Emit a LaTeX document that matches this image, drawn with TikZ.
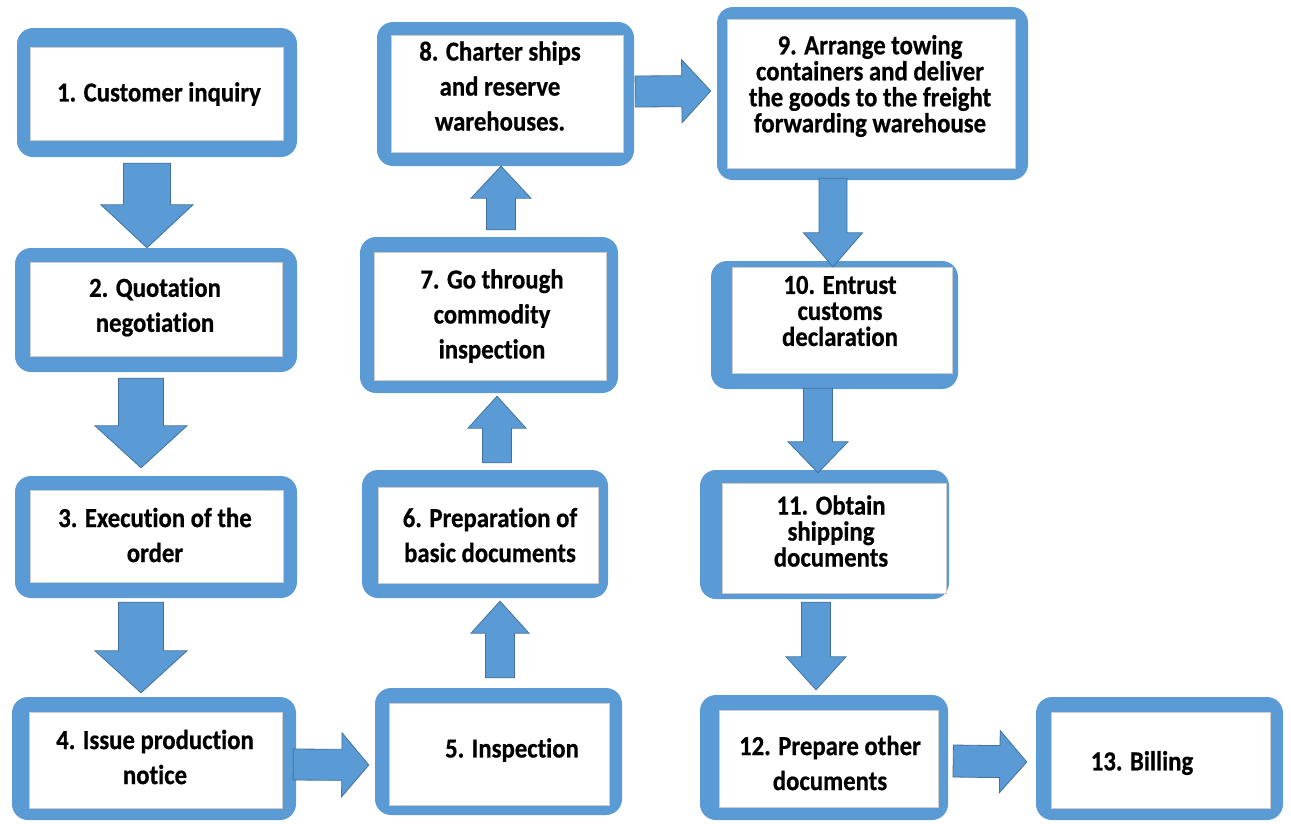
\documentclass[tikz,border=0pt]{standalone}
\usepackage{fontspec}
\setmainfont{Carlito}[Ligatures=CommonOff,FakeStretch=0.9,BoldFeatures={FakeBold=0.6}]
\usepackage{tikz}
\usetikzlibrary{calc}

\definecolor{boxblue}{RGB}{91,155,213}
\definecolor{edgeblue}{RGB}{65,113,156}

\newcommand{\blockarrow}[5]{%
  \coordinate (ba-s) at #1;
  \coordinate (ba-e) at #2;
  \coordinate (ba-n) at ($(ba-e)!#5!(ba-s)$);
  \path [arrowbody] ($(ba-s)!#3!90:(ba-e)$) -- ($(ba-n)!#3!90:(ba-e)$) -- ($(ba-n)!#4!90:(ba-e)$) -- (ba-e)
    -- ($(ba-n)!#4!-90:(ba-e)$) -- ($(ba-n)!#3!-90:(ba-e)$) -- ($(ba-s)!#3!-90:(ba-e)$) -- cycle;}

\begin{document}
\begin{tikzpicture}[x=1pt,y=-1pt,
  frame/.style={shape=rectangle,rounded corners=16pt,fill=boxblue,inner sep=0pt},
  inner/.style={fill=white,draw=black!20,line width=0.8pt},
  txt/.style={align=center,inner sep=0pt,font=\fontsize{27.5pt}{35pt}\selectfont\bfseries},
  tight/.style={align=center,inner sep=0pt,font=\fontsize{27.5pt}{26pt}\selectfont\bfseries},
  arrowbody/.style={fill=boxblue,draw=edgeblue,line width=0.8pt,line join=miter}]
\useasboundingbox (0,0) rectangle (1291,823);

\path (157,92.5) node (fr1) [frame,minimum width=280pt,minimum height=129pt] {};
\path (156,310) node (fr2) [frame,minimum width=282pt,minimum height=124pt] {};
\path (156,537) node (fr3) [frame,minimum width=282pt,minimum height=122pt] {};
\path (154,758.5) node (fr4) [frame,minimum width=284pt,minimum height=123pt] {};
\path (498.5,751.5) node (fr5) [frame,minimum width=247pt,minimum height=127pt] {};
\path (485,534) node (fr6) [frame,minimum width=246pt,minimum height=128pt] {};
\path (489,315) node (fr7) [frame,minimum width=258pt,minimum height=156pt] {};
\path (505.5,94) node (fr8) [frame,minimum width=257pt,minimum height=144pt] {};
\path (872.5,93.5) node (fr9) [frame,minimum width=311pt,minimum height=173pt] {};
\path (834.5,325) node (fr10) [frame,minimum width=247pt,minimum height=128pt] {};
\path (824.5,534.5) node (fr11) [frame,minimum width=249pt,minimum height=129pt] {};
\path (824,757.5) node (fr12) [frame,minimum width=248pt,minimum height=125pt] {};
\path (1159.5,758.5) node (fr13) [frame,minimum width=247pt,minimum height=123pt] {};

\path [inner] (30,47) rectangle (283,140);
\path [inner] (30,262) rectangle (282,356);
\path [inner] (30,490) rectangle (283,582);
\path [inner] (29,712) rectangle (282,808);
\path [inner] (389,703) rectangle (609,805);
\path [inner] (378,487) rectangle (598,583);
\path [inner] (374,252) rectangle (606,380);
\path [inner] (391,35) rectangle (623,152);
\path [inner] (727,19) rectangle (1015,168);
\path [inner] (732,267) rectangle (952,373);
\path [inner] (722,483) rectangle (946,593);
\path [inner] (719,710) rectangle (938,807);
\path [inner] (1051,712) rectangle (1270,808);

\path (159,94) node (t1) [txt] {1. Customer inquiry};
\path (155,307) node (t2) [txt] {2. Quotation\\negotiation};
\path (155,535) node (t3) [txt] {3. Execution of the\\order};
\path (155,757) node (t4) [txt] {4. Issue production\\notice};
\path (512,750) node (t5) [txt] {5. Inspection};
\path (490,535) node (t6) [txt] {6. Preparation of\\basic documents};
\path (492,316) node (t7) [txt] {7. Go through\\commodity\\inspection};
\path (500,86) node (t8) [txt] {8. Charter ships\\and reserve\\warehouses.};
\path (870,86) node (t9) [tight] {9. Arrange towing\\containers and deliver\\the goods to the freight\\forwarding warehouse};
\path (840,311) node (t10) [tight] {10. Entrust\\customs\\declaration};
\path (831,531) node (t11) [tight] {11. Obtain\\shipping\\documents};
\path (830,763) node (t12) [txt] {12. Prepare other\\documents};
\path (1142,763) node (t13) [txt] {13. Billing};

\blockarrow{($(fr1.south)+(-10,6)$)}{($(fr2.north)+(-9,0)$)}{23.5pt}{46pt}{43pt}
\blockarrow{($(fr2.south)+(-15,6)$)}{($(fr3.north)+(-15,-8)$)}{22.5pt}{46pt}{42pt}
\blockarrow{($(fr3.south)+(-15,4)$)}{($(fr4.north)+(-13,-4)$)}{22.5pt}{46pt}{42pt}
\blockarrow{($(fr4.east)+(-3,6)$)}{($(fr5.west)+(-6,13.5)$)}{15.5pt}{32pt}{27pt}
\blockarrow{($(fr5.north)+(1.5,-10)$)}{($(fr6.south)+(15,3)$)}{14.5pt}{29pt}{32pt}
\blockarrow{($(fr6.north)+(12,-7)$)}{($(fr7.south)+(8,3)$)}{14.5pt}{29pt}{32pt}
\blockarrow{($(fr7.north)+(12,-7)$)}{($(fr8.south)+(-4.5,0)$)}{14.5pt}{30pt}{32pt}
\blockarrow{($(fr8.east)+(1,-2.5)$)}{($(fr9.west)+(-6,-2.5)$)}{15.5pt}{31.5pt}{29pt}
\blockarrow{($(fr9.south)+(-39.5,-2)$)}{($(fr10.north)+(-1.5,6)$)}{14pt}{29.5pt}{34pt}
\blockarrow{($(fr10.south)+(-16.5,-1)$)}{($(fr11.north)+(-6.5,3)$)}{14.5pt}{30pt}{31pt}
\blockarrow{($(fr11.south)+(-8.5,3)$)}{($(fr12.north)+(-8,-5)$)}{14.5pt}{30pt}{33pt}
\blockarrow{($(fr12.east)+(5,3.5)$)}{($(fr13.west)+(-9,3.5)$)}{16pt}{31pt}{27pt}
\end{tikzpicture}
\end{document}
